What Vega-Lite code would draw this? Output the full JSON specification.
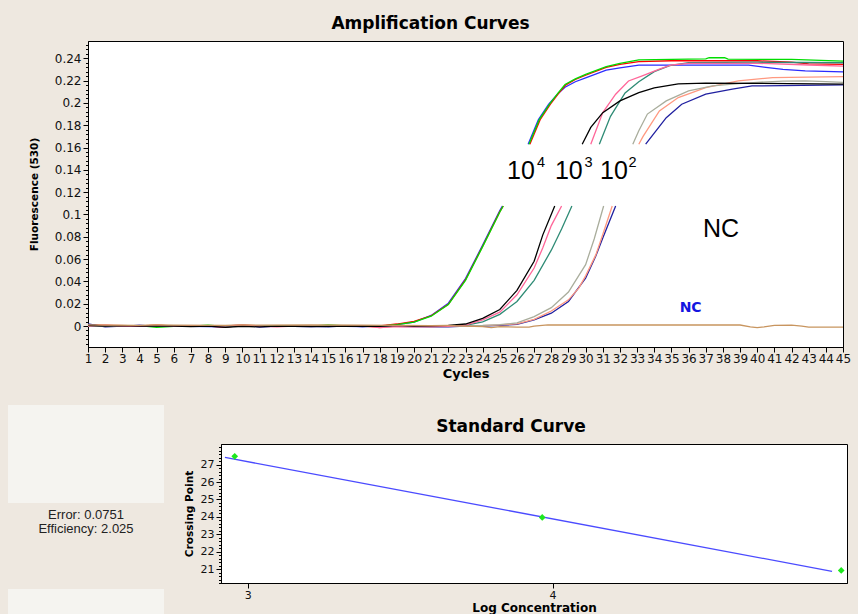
{
"$schema":"https://vega.github.io/schema/vega-lite/v6.json",
"background":"#EEE8E0",
"padding":{"left":8,"top":14,"right":6,"bottom":0},
"config":{"view":{"stroke":null},"axis":{"grid":false,"domainColor":"#000","tickColor":"#000","labelColor":"#111","titleColor":"#000","labelFont":"DejaVu Sans","titleFont":"DejaVu Sans","titleFontWeight":"bold"},"axisX":{"labelOverlap":false}},
"align":"none",
"spacing":24,
"vconcat":[
{"align":"none","spacing":8,"hconcat":[
 {"width":12,"height":1,"data":{"values":[{"t":""}]},"mark":{"type":"text","text":"","fontSize":0}},
 {"width":755,"height":306,
  "view":{"fill":"white","stroke":"#000","strokeWidth":1},
  "title":{"text":"Amplification Curves","font":"DejaVu Sans","fontSize":17,"fontWeight":"bold","color":"#000","anchor":"middle","dx":-35,"baseline":"top","offset":8},
  "layer":[
   {"data":{"values":[
{"id":"b","s":"lo","c":1,"f":0.0015},{"id":"b","s":"lo","c":2,"f":0},{"id":"b","s":"lo","c":3,"f":0},{"id":"b","s":"lo","c":4,"f":0.0006},{"id":"b","s":"lo","c":5,"f":0},{"id":"b","s":"lo","c":6,"f":0.0004},{"id":"b","s":"lo","c":7,"f":-0.0002},{"id":"b","s":"lo","c":8,"f":-0.0005},{"id":"b","s":"lo","c":9,"f":-0.0008},{"id":"b","s":"lo","c":10,"f":0.0004},{"id":"b","s":"lo","c":11,"f":-0.0006},{"id":"b","s":"lo","c":12,"f":-0.0002},{"id":"b","s":"lo","c":13,"f":-0.0004},{"id":"b","s":"lo","c":14,"f":-0.0006},{"id":"b","s":"lo","c":15,"f":-0.0004},{"id":"b","s":"lo","c":16,"f":-0.0002},{"id":"b","s":"lo","c":17,"f":-0.0005},{"id":"b","s":"lo","c":18,"f":0},{"id":"b","s":"lo","c":19,"f":0.0012},{"id":"b","s":"lo","c":20,"f":0.0036},{"id":"b","s":"lo","c":21,"f":0.0095},{"id":"b","s":"lo","c":22,"f":0.0205},{"id":"b","s":"lo","c":23,"f":0.0425},{"id":"b","s":"lo","c":24,"f":0.0725},{"id":"b","s":"lo","c":25,"f":0.1035},{"id":"b","s":"lo","c":25.15,"f":0.1076},
{"id":"b","s":"hi","c":26.65,"f":0.163},{"id":"b","s":"hi","c":27.25,"f":0.185},{"id":"b","s":"hi","c":27.85,"f":0.199},{"id":"b","s":"hi","c":28.4,"f":0.2085},{"id":"b","s":"hi","c":28.8,"f":0.214},{"id":"b","s":"hi","c":29.4,"f":0.219},{"id":"b","s":"hi","c":30,"f":0.2225},{"id":"b","s":"hi","c":31.2,"f":0.2293},{"id":"b","s":"hi","c":32,"f":0.2315},{"id":"b","s":"hi","c":33.1,"f":0.2338},{"id":"b","s":"hi","c":39.5,"f":0.2338},{"id":"b","s":"hi","c":40.5,"f":0.2318},{"id":"b","s":"hi","c":41.5,"f":0.23},{"id":"b","s":"hi","c":42.8,"f":0.2287},{"id":"b","s":"hi","c":45,"f":0.2278},
{"id":"r","s":"lo","c":1,"f":0.001},{"id":"r","s":"lo","c":2,"f":0.0006},{"id":"r","s":"lo","c":3,"f":0.0002},{"id":"r","s":"lo","c":4,"f":0},{"id":"r","s":"lo","c":5,"f":0.0007},{"id":"r","s":"lo","c":6,"f":0},{"id":"r","s":"lo","c":7,"f":-0.0003},{"id":"r","s":"lo","c":8,"f":0},{"id":"r","s":"lo","c":9,"f":-0.0009},{"id":"r","s":"lo","c":10,"f":0.0006},{"id":"r","s":"lo","c":11,"f":-0.0002},{"id":"r","s":"lo","c":12,"f":0.0004},{"id":"r","s":"lo","c":13,"f":0},{"id":"r","s":"lo","c":14,"f":0.0003},{"id":"r","s":"lo","c":15,"f":0},{"id":"r","s":"lo","c":16,"f":-0.0003},{"id":"r","s":"lo","c":17,"f":0},{"id":"r","s":"lo","c":18,"f":0.0002},{"id":"r","s":"lo","c":19,"f":0.0018},{"id":"r","s":"lo","c":20,"f":0.0042},{"id":"r","s":"lo","c":21,"f":0.0092},{"id":"r","s":"lo","c":22,"f":0.0195},{"id":"r","s":"lo","c":23,"f":0.0415},{"id":"r","s":"lo","c":24,"f":0.0715},{"id":"r","s":"lo","c":25,"f":0.1025},{"id":"r","s":"lo","c":25.2,"f":0.1076},
{"id":"r","s":"hi","c":26.75,"f":0.163},{"id":"r","s":"hi","c":27.35,"f":0.185},{"id":"r","s":"hi","c":27.95,"f":0.199},{"id":"r","s":"hi","c":28.45,"f":0.209},{"id":"r","s":"hi","c":28.85,"f":0.2162},{"id":"r","s":"hi","c":29.4,"f":0.221},{"id":"r","s":"hi","c":30,"f":0.2248},{"id":"r","s":"hi","c":31.2,"f":0.2318},{"id":"r","s":"hi","c":32,"f":0.2345},{"id":"r","s":"hi","c":33.1,"f":0.237},{"id":"r","s":"hi","c":35,"f":0.2378},{"id":"r","s":"hi","c":40,"f":0.2378},{"id":"r","s":"hi","c":42,"f":0.2365},{"id":"r","s":"hi","c":43,"f":0.235},{"id":"r","s":"hi","c":45,"f":0.2345},
{"id":"g","s":"lo","c":1,"f":0.0008},{"id":"g","s":"lo","c":2,"f":0.0002},{"id":"g","s":"lo","c":3,"f":0},{"id":"g","s":"lo","c":4,"f":0.0004},{"id":"g","s":"lo","c":5,"f":-0.0012},{"id":"g","s":"lo","c":6,"f":-0.0002},{"id":"g","s":"lo","c":7,"f":0},{"id":"g","s":"lo","c":8,"f":0.0008},{"id":"g","s":"lo","c":9,"f":-0.0004},{"id":"g","s":"lo","c":10,"f":0.0003},{"id":"g","s":"lo","c":11,"f":0},{"id":"g","s":"lo","c":12,"f":-0.0002},{"id":"g","s":"lo","c":13,"f":0.0002},{"id":"g","s":"lo","c":14,"f":0},{"id":"g","s":"lo","c":15,"f":0.0009},{"id":"g","s":"lo","c":16,"f":0.0002},{"id":"g","s":"lo","c":17,"f":-0.0004},{"id":"g","s":"lo","c":18,"f":0},{"id":"g","s":"lo","c":19,"f":0.0012},{"id":"g","s":"lo","c":20,"f":0.0035},{"id":"g","s":"lo","c":21,"f":0.0088},{"id":"g","s":"lo","c":22,"f":0.0192},{"id":"g","s":"lo","c":23,"f":0.041},{"id":"g","s":"lo","c":24,"f":0.0712},{"id":"g","s":"lo","c":25,"f":0.1022},{"id":"g","s":"lo","c":25.2,"f":0.1076},
{"id":"g","s":"hi","c":26.7,"f":0.163},{"id":"g","s":"hi","c":27.3,"f":0.185},{"id":"g","s":"hi","c":27.9,"f":0.199},{"id":"g","s":"hi","c":28.4,"f":0.209},{"id":"g","s":"hi","c":28.8,"f":0.2165},{"id":"g","s":"hi","c":29.4,"f":0.2215},{"id":"g","s":"hi","c":30,"f":0.2255},{"id":"g","s":"hi","c":31.2,"f":0.2325},{"id":"g","s":"hi","c":32,"f":0.2355},{"id":"g","s":"hi","c":33.1,"f":0.2385},{"id":"g","s":"hi","c":35,"f":0.239},{"id":"g","s":"hi","c":37,"f":0.2395},{"id":"g","s":"hi","c":37.2,"f":0.2405},{"id":"g","s":"hi","c":38.1,"f":0.2405},{"id":"g","s":"hi","c":38.3,"f":0.2392},{"id":"g","s":"hi","c":42,"f":0.239},{"id":"g","s":"hi","c":45,"f":0.2375},
{"id":"n","s":"lo","c":1,"f":0.002},{"id":"n","s":"lo","c":2,"f":-0.0008},{"id":"n","s":"lo","c":3,"f":0},{"id":"n","s":"lo","c":4,"f":0.0005},{"id":"n","s":"lo","c":5,"f":0},{"id":"n","s":"lo","c":6,"f":0},{"id":"n","s":"lo","c":7,"f":-0.0003},{"id":"n","s":"lo","c":8,"f":0},{"id":"n","s":"lo","c":9,"f":-0.0002},{"id":"n","s":"lo","c":10,"f":0.0008},{"id":"n","s":"lo","c":11,"f":-0.0008},{"id":"n","s":"lo","c":12,"f":0},{"id":"n","s":"lo","c":13,"f":-0.0002},{"id":"n","s":"lo","c":14,"f":0},{"id":"n","s":"lo","c":15,"f":-0.0007},{"id":"n","s":"lo","c":16,"f":0.0002},{"id":"n","s":"lo","c":17,"f":-0.0006},{"id":"n","s":"lo","c":18,"f":0},{"id":"n","s":"lo","c":19,"f":-0.0004},{"id":"n","s":"lo","c":20,"f":-0.0006},{"id":"n","s":"lo","c":21,"f":-0.0008},{"id":"n","s":"lo","c":22,"f":-0.0008},{"id":"n","s":"lo","c":23,"f":0},{"id":"n","s":"lo","c":24,"f":0},{"id":"n","s":"lo","c":25,"f":0.0006},{"id":"n","s":"lo","c":26,"f":0.0015},{"id":"n","s":"lo","c":27,"f":0.0055},{"id":"n","s":"lo","c":28,"f":0.0115},{"id":"n","s":"lo","c":29,"f":0.022},{"id":"n","s":"lo","c":30,"f":0.043},{"id":"n","s":"lo","c":30.6,"f":0.063},{"id":"n","s":"lo","c":31,"f":0.079},{"id":"n","s":"lo","c":31.75,"f":0.1076},
{"id":"n","s":"hi","c":33.5,"f":0.163},{"id":"n","s":"hi","c":34.7,"f":0.1868},{"id":"n","s":"hi","c":35.6,"f":0.1988},{"id":"n","s":"hi","c":37,"f":0.2078},{"id":"n","s":"hi","c":38.55,"f":0.2123},{"id":"n","s":"hi","c":39.7,"f":0.2152},{"id":"n","s":"hi","c":45,"f":0.2161},
{"id":"s","s":"lo","c":1,"f":0},{"id":"s","s":"lo","c":2,"f":0.001},{"id":"s","s":"lo","c":3,"f":0.0006},{"id":"s","s":"lo","c":4,"f":0},{"id":"s","s":"lo","c":5,"f":0.0012},{"id":"s","s":"lo","c":6,"f":0},{"id":"s","s":"lo","c":7,"f":0},{"id":"s","s":"lo","c":8,"f":0},{"id":"s","s":"lo","c":9,"f":0},{"id":"s","s":"lo","c":10,"f":0.0012},{"id":"s","s":"lo","c":11,"f":0},{"id":"s","s":"lo","c":12,"f":0},{"id":"s","s":"lo","c":13,"f":0},{"id":"s","s":"lo","c":14,"f":0},{"id":"s","s":"lo","c":15,"f":0},{"id":"s","s":"lo","c":16,"f":0},{"id":"s","s":"lo","c":17,"f":0},{"id":"s","s":"lo","c":18,"f":-0.0015},{"id":"s","s":"lo","c":19,"f":0},{"id":"s","s":"lo","c":20,"f":0},{"id":"s","s":"lo","c":21,"f":-0.0005},{"id":"s","s":"lo","c":22,"f":0},{"id":"s","s":"lo","c":23,"f":0},{"id":"s","s":"lo","c":24,"f":0.0004},{"id":"s","s":"lo","c":25,"f":0.001},{"id":"s","s":"lo","c":26,"f":0.002},{"id":"s","s":"lo","c":27,"f":0.006},{"id":"s","s":"lo","c":28,"f":0.0135},{"id":"s","s":"lo","c":29,"f":0.0235},{"id":"s","s":"lo","c":29.6,"f":0.034},{"id":"s","s":"lo","c":30,"f":0.045},{"id":"s","s":"lo","c":30.6,"f":0.064},{"id":"s","s":"lo","c":31,"f":0.082},{"id":"s","s":"lo","c":31.55,"f":0.1076},
{"id":"s","s":"hi","c":33.1,"f":0.163},{"id":"s","s":"hi","c":33.35,"f":0.17},{"id":"s","s":"hi","c":34.3,"f":0.1928},{"id":"s","s":"hi","c":35.4,"f":0.2048},{"id":"s","s":"hi","c":37,"f":0.2137},{"id":"s","s":"hi","c":38.9,"f":0.2197},{"id":"s","s":"hi","c":40.9,"f":0.2227},{"id":"s","s":"hi","c":45,"f":0.2236},
{"id":"y","s":"lo","c":1,"f":0.0004},{"id":"y","s":"lo","c":2,"f":0},{"id":"y","s":"lo","c":4,"f":0},{"id":"y","s":"lo","c":5,"f":0.0004},{"id":"y","s":"lo","c":6,"f":0},{"id":"y","s":"lo","c":10,"f":0},{"id":"y","s":"lo","c":15,"f":0},{"id":"y","s":"lo","c":20,"f":0},{"id":"y","s":"lo","c":22,"f":0},{"id":"y","s":"lo","c":23,"f":0.0002},{"id":"y","s":"lo","c":24,"f":0.0005},{"id":"y","s":"lo","c":25,"f":0.0012},{"id":"y","s":"lo","c":26,"f":0.0028},{"id":"y","s":"lo","c":27,"f":0.0085},{"id":"y","s":"lo","c":28,"f":0.0165},{"id":"y","s":"lo","c":29,"f":0.0305},{"id":"y","s":"lo","c":30,"f":0.055},{"id":"y","s":"lo","c":30.5,"f":0.078},{"id":"y","s":"lo","c":31.05,"f":0.1076},
{"id":"y","s":"hi","c":32.75,"f":0.163},{"id":"y","s":"hi","c":33.1,"f":0.175},{"id":"y","s":"hi","c":33.6,"f":0.19},{"id":"y","s":"hi","c":34.7,"f":0.2018},{"id":"y","s":"hi","c":36,"f":0.2108},{"id":"y","s":"hi","c":37.4,"f":0.2152},{"id":"y","s":"hi","c":38.9,"f":0.2173},{"id":"y","s":"hi","c":40,"f":0.2185},{"id":"y","s":"hi","c":41.5,"f":0.2195},{"id":"y","s":"hi","c":42.8,"f":0.2197},{"id":"y","s":"hi","c":44,"f":0.219},{"id":"y","s":"hi","c":45,"f":0.2185},
{"id":"t","s":"lo","c":1,"f":0},{"id":"t","s":"lo","c":3,"f":0.0004},{"id":"t","s":"lo","c":4,"f":0},{"id":"t","s":"lo","c":6,"f":0.0003},{"id":"t","s":"lo","c":7,"f":0},{"id":"t","s":"lo","c":8,"f":-0.0002},{"id":"t","s":"lo","c":9,"f":0},{"id":"t","s":"lo","c":11,"f":0.0003},{"id":"t","s":"lo","c":12,"f":0},{"id":"t","s":"lo","c":13,"f":0.0002},{"id":"t","s":"lo","c":14,"f":-0.0002},{"id":"t","s":"lo","c":15,"f":0},{"id":"t","s":"lo","c":16,"f":0.0002},{"id":"t","s":"lo","c":17,"f":0},{"id":"t","s":"lo","c":22,"f":0},{"id":"t","s":"lo","c":23,"f":0.0006},{"id":"t","s":"lo","c":24,"f":0.0038},{"id":"t","s":"lo","c":25,"f":0.0105},{"id":"t","s":"lo","c":26,"f":0.022},{"id":"t","s":"lo","c":27,"f":0.041},{"id":"t","s":"lo","c":28,"f":0.068},{"id":"t","s":"lo","c":28.6,"f":0.087},{"id":"t","s":"lo","c":29.2,"f":0.1076},
{"id":"t","s":"hi","c":30.8,"f":0.163},{"id":"t","s":"hi","c":31.45,"f":0.188},{"id":"t","s":"hi","c":32.3,"f":0.209},{"id":"t","s":"hi","c":33.1,"f":0.219},{"id":"t","s":"hi","c":34,"f":0.228},{"id":"t","s":"hi","c":34.9,"f":0.2335},{"id":"t","s":"hi","c":36,"f":0.2362},{"id":"t","s":"hi","c":40,"f":0.2365},{"id":"t","s":"hi","c":45,"f":0.236},
{"id":"p","s":"lo","c":1,"f":0},{"id":"p","s":"lo","c":2,"f":0.0005},{"id":"p","s":"lo","c":3,"f":0},{"id":"p","s":"lo","c":4,"f":-0.0003},{"id":"p","s":"lo","c":5,"f":0.0006},{"id":"p","s":"lo","c":6,"f":0},{"id":"p","s":"lo","c":7,"f":0.0002},{"id":"p","s":"lo","c":8,"f":0},{"id":"p","s":"lo","c":9,"f":0.0002},{"id":"p","s":"lo","c":10,"f":0.0008},{"id":"p","s":"lo","c":11,"f":0},{"id":"p","s":"lo","c":12,"f":-0.0008},{"id":"p","s":"lo","c":13,"f":0},{"id":"p","s":"lo","c":15,"f":-0.0003},{"id":"p","s":"lo","c":16,"f":0},{"id":"p","s":"lo","c":17,"f":0.0002},{"id":"p","s":"lo","c":18,"f":-0.0015},{"id":"p","s":"lo","c":19,"f":-0.0005},{"id":"p","s":"lo","c":20,"f":-0.0008},{"id":"p","s":"lo","c":21,"f":-0.0006},{"id":"p","s":"lo","c":22,"f":-0.0004},{"id":"p","s":"lo","c":23,"f":0.0008},{"id":"p","s":"lo","c":24,"f":0.0055},{"id":"p","s":"lo","c":25,"f":0.0125},{"id":"p","s":"lo","c":26,"f":0.028},{"id":"p","s":"lo","c":27,"f":0.052},{"id":"p","s":"lo","c":27.5,"f":0.07},{"id":"p","s":"lo","c":28,"f":0.09},{"id":"p","s":"lo","c":28.6,"f":0.1076},
{"id":"p","s":"hi","c":30.3,"f":0.163},{"id":"p","s":"hi","c":31,"f":0.1913},{"id":"p","s":"hi","c":31.75,"f":0.2078},{"id":"p","s":"hi","c":32.5,"f":0.2197},{"id":"p","s":"hi","c":33.3,"f":0.2242},{"id":"p","s":"hi","c":34.3,"f":0.2302},{"id":"p","s":"hi","c":35,"f":0.234},{"id":"p","s":"hi","c":36,"f":0.2355},{"id":"p","s":"hi","c":40,"f":0.2355},{"id":"p","s":"hi","c":43,"f":0.234},{"id":"p","s":"hi","c":45,"f":0.233},
{"id":"k","s":"lo","c":1,"f":0.0005},{"id":"k","s":"lo","c":2,"f":0},{"id":"k","s":"lo","c":3,"f":0.0003},{"id":"k","s":"lo","c":4,"f":0},{"id":"k","s":"lo","c":5,"f":0.0002},{"id":"k","s":"lo","c":6,"f":0},{"id":"k","s":"lo","c":7,"f":-0.0006},{"id":"k","s":"lo","c":8,"f":0},{"id":"k","s":"lo","c":9,"f":-0.0012},{"id":"k","s":"lo","c":10,"f":-0.0002},{"id":"k","s":"lo","c":11,"f":-0.0008},{"id":"k","s":"lo","c":12,"f":0},{"id":"k","s":"lo","c":13,"f":-0.0002},{"id":"k","s":"lo","c":14,"f":-0.0006},{"id":"k","s":"lo","c":15,"f":-0.0004},{"id":"k","s":"lo","c":16,"f":0},{"id":"k","s":"lo","c":17,"f":-0.0002},{"id":"k","s":"lo","c":18,"f":-0.0003},{"id":"k","s":"lo","c":19,"f":0.0006},{"id":"k","s":"lo","c":20,"f":0},{"id":"k","s":"lo","c":21,"f":0.0002},{"id":"k","s":"lo","c":22,"f":0.0006},{"id":"k","s":"lo","c":23,"f":0.0018},{"id":"k","s":"lo","c":24,"f":0.0068},{"id":"k","s":"lo","c":25,"f":0.0148},{"id":"k","s":"lo","c":26,"f":0.032},{"id":"k","s":"lo","c":27,"f":0.058},{"id":"k","s":"lo","c":27.5,"f":0.0815},{"id":"k","s":"lo","c":28.2,"f":0.1076},
{"id":"k","s":"hi","c":29.8,"f":0.163},{"id":"k","s":"hi","c":30.3,"f":0.178},{"id":"k","s":"hi","c":31,"f":0.1913},{"id":"k","s":"hi","c":32,"f":0.2018},{"id":"k","s":"hi","c":33.1,"f":0.2092},{"id":"k","s":"hi","c":34,"f":0.2135},{"id":"k","s":"hi","c":35.4,"f":0.217},{"id":"k","s":"hi","c":37,"f":0.2178},{"id":"k","s":"hi","c":40,"f":0.2175},{"id":"k","s":"hi","c":45,"f":0.2168},
{"id":"nc","s":"lo","c":1,"f":0.001},{"id":"nc","s":"lo","c":2,"f":0.0008},{"id":"nc","s":"lo","c":4,"f":0.0006},{"id":"nc","s":"lo","c":5,"f":0.001},{"id":"nc","s":"lo","c":6,"f":0.0008},{"id":"nc","s":"lo","c":9,"f":0.0006},{"id":"nc","s":"lo","c":10,"f":0.001},{"id":"nc","s":"lo","c":11,"f":0.0008},{"id":"nc","s":"lo","c":14,"f":0.0009},{"id":"nc","s":"lo","c":17,"f":0.0008},{"id":"nc","s":"lo","c":19,"f":0.0006},{"id":"nc","s":"lo","c":21,"f":0.0004},{"id":"nc","s":"lo","c":22,"f":0.0005},{"id":"nc","s":"lo","c":23,"f":0},{"id":"nc","s":"lo","c":24,"f":-0.0005},{"id":"nc","s":"lo","c":24.5,"f":-0.0015},{"id":"nc","s":"lo","c":25,"f":-0.0005},{"id":"nc","s":"lo","c":26,"f":-0.001},{"id":"nc","s":"lo","c":26.7,"f":-0.001},{"id":"nc","s":"lo","c":27,"f":0},{"id":"nc","s":"lo","c":27.8,"f":0.001},{"id":"nc","s":"lo","c":30,"f":0.0009},{"id":"nc","s":"lo","c":35,"f":0.0009},{"id":"nc","s":"lo","c":39,"f":0.0009},{"id":"nc","s":"lo","c":39.6,"f":-0.0008},{"id":"nc","s":"lo","c":40,"f":-0.0015},{"id":"nc","s":"lo","c":40.4,"f":-0.0008},{"id":"nc","s":"lo","c":41,"f":0.0006},{"id":"nc","s":"lo","c":42,"f":0.0008},{"id":"nc","s":"lo","c":42.6,"f":0},{"id":"nc","s":"lo","c":43,"f":-0.001},{"id":"nc","s":"lo","c":45,"f":-0.001}
   ]},
   "mark":{"type":"line","strokeWidth":1.3},
   "encoding":{
    "x":{"field":"c","type":"quantitative","scale":{"domain":[1,45],"nice":false,"zero":false},
      "axis":{"values":[1,2,3,4,5,6,7,8,9,10,11,12,13,14,15,16,17,18,19,20,21,22,23,24,25,26,27,28,29,30,31,32,33,34,35,36,37,38,39,40,41,42,43,44,45],"format":"d","labelFontSize":12,"labelFlush":false,"labelOverlap":false,"tickSize":5,"labelPadding":1,"title":"Cycles","titleFontSize":13,"titlePadding":3}},
    "y":{"field":"f","type":"quantitative","scale":{"domain":[-0.0188,0.2555],"nice":false,"zero":false},
      "axis":{"orient":"left","values":[0,0.02,0.04,0.06,0.08,0.1,0.12,0.14,0.16,0.18,0.2,0.22,0.24],"format":"~g","labelFontSize":12,"tickSize":5,"labelPadding":2,"title":"Fluorescence (530)","titleFontSize":10.5,"titlePadding":15}},
    "color":{"field":"id","type":"nominal","scale":{"domain":["b","r","g","n","s","y","t","p","k","nc"],"range":["#2B2BFF","#FF0000","#00DD00","#2020A0","#FF9980","#A9AD9C","#2E8B75","#FF6699","#000000","#C8955F"]},"legend":null},
    "detail":{"field":"s"}
   }},
   {"data":{"values":[{"t":"10","c":25.42,"f":0.1318},{"t":"10","c":28.21,"f":0.1318},{"t":"10","c":30.84,"f":0.1318},{"t":"NC","c":36.84,"f":0.0801}]},
    "mark":{"type":"text","font":"Liberation Sans","fontSize":25,"align":"left","baseline":"alphabetic","color":"#000"},
    "encoding":{"x":{"field":"c","type":"quantitative","axis":{"values":[1,2,3,4,5,6,7,8,9,10,11,12,13,14,15,16,17,18,19,20,21,22,23,24,25,26,27,28,29,30,31,32,33,34,35,36,37,38,39,40,41,42,43,44,45],"format":"d","labelFontSize":12,"labelFlush":false,"labelOverlap":false,"tickSize":5,"labelPadding":1,"title":"Cycles","titleFontSize":13,"titlePadding":3}},
      "y":{"field":"f","type":"quantitative","axis":{"orient":"left","values":[-0.016,-0.012,-0.008,-0.004,0.004,0.008,0.012,0.016,0.024,0.028,0.032,0.036,0.044,0.048,0.052,0.056,0.064,0.068,0.072,0.076,0.084,0.088,0.092,0.096,0.104,0.108,0.112,0.116,0.124,0.128,0.132,0.136,0.144,0.148,0.152,0.156,0.164,0.168,0.172,0.176,0.184,0.188,0.192,0.196,0.204,0.208,0.212,0.216,0.224,0.228,0.232,0.236,0.244,0.248,0.252],"labels":false,"domain":false,"tickSize":2.5,"title":null}},
      "text":{"field":"t"}}},
   {"data":{"values":[{"t":"4","c":27.17,"f":0.1428},{"t":"3","c":29.93,"f":0.1428},{"t":"2","c":32.5,"f":0.1428}]},
    "mark":{"type":"text","font":"Liberation Sans","fontSize":14.5,"align":"left","baseline":"alphabetic","color":"#000"},
    "encoding":{"x":{"field":"c","type":"quantitative","axis":{"values":[1,2,3,4,5,6,7,8,9,10,11,12,13,14,15,16,17,18,19,20,21,22,23,24,25,26,27,28,29,30,31,32,33,34,35,36,37,38,39,40,41,42,43,44,45],"format":"d","labelFontSize":12,"labelFlush":false,"labelOverlap":false,"tickSize":5,"labelPadding":1,"title":"Cycles","titleFontSize":13,"titlePadding":3}},"y":{"field":"f","type":"quantitative","axis":null},"text":{"field":"t"}}},
   {"data":{"values":[{"t":"NC","c":35.48,"f":0.0126}]},
    "mark":{"type":"text","font":"DejaVu Sans","fontWeight":"bold","fontSize":14,"align":"left","baseline":"alphabetic","color":"#1515E0"},
    "encoding":{"x":{"field":"c","type":"quantitative","axis":{"values":[1,2,3,4,5,6,7,8,9,10,11,12,13,14,15,16,17,18,19,20,21,22,23,24,25,26,27,28,29,30,31,32,33,34,35,36,37,38,39,40,41,42,43,44,45],"format":"d","labelFontSize":12,"labelFlush":false,"labelOverlap":false,"tickSize":5,"labelPadding":1,"title":"Cycles","titleFontSize":13,"titlePadding":3}},"y":{"field":"f","type":"quantitative","axis":null},"text":{"field":"t"}}}
  ],
  "resolve":{"axis":{"y":"independent"}}
 }
]},
{"align":"none","spacing":19,"hconcat":[
 {"spacing":0,"vconcat":[
   {"width":156,"height":98,"view":{"fill":"#F5F4F0","stroke":null},"data":{"values":[{"t":""}]},"mark":{"type":"text","text":"","fontSize":0}},
   {"width":156,"height":86,"data":{"values":[{"t":""}]},"mark":{"type":"text","text":["Error: 0.0751","Efficiency: 2.025"],"font":"Liberation Sans","fontSize":13,"lineHeight":14,"align":"center","baseline":"alphabetic","dy":-27,"color":"#222"}},
   {"width":156,"height":26,"view":{"fill":"#F5F4F0","stroke":null},"data":{"values":[{"t":""}]},"mark":{"type":"text","text":"","fontSize":0}}
 ]},
 {"spacing":11,"vconcat":[
  {"width":1,"height":1,"data":{"values":[{"t":""}]},"mark":{"type":"text","text":"","fontSize":0}},
  {"width":626,"height":139,
  "view":{"fill":"white","stroke":"#000","strokeWidth":1},
  "title":{"text":"Standard Curve","font":"DejaVu Sans","fontSize":17,"fontWeight":"bold","color":"#000","anchor":"middle","dx":-23,"baseline":"top","offset":8.3},
  "layer":[
   {"data":{"values":[{"lc":2.925,"cp":27.42},{"lc":4.917,"cp":20.87}]},
    "mark":{"type":"line","color":"#4B4BFF","strokeWidth":1.3},
    "encoding":{
     "x":{"field":"lc","type":"quantitative","scale":{"domain":[2.912,4.966],"nice":false,"zero":false},"axis":{"values":[3,4],"format":"d","labelFontSize":11,"tickSize":5,"labelPadding":1,"labelFlush":false,"title":"Log Concentration","titleFontSize":12,"titlePadding":2}},
     "y":{"field":"cp","type":"quantitative","scale":{"domain":[20.2,28.19],"nice":false,"zero":false},"axis":{"orient":"left","values":[21,22,23,24,25,26,27],"format":"d","labelFontSize":11,"tickSize":5,"labelPadding":2,"title":"Crossing Point","titleFontSize":10.6,"titlePadding":6}}}},
   {"data":{"values":[{"lc":2.957,"cp":27.48},{"lc":3.966,"cp":23.97},{"lc":4.947,"cp":20.92}]},
    "mark":{"type":"point","shape":"diamond","filled":true,"color":"#1EE81E","size":45,"opacity":1},
    "encoding":{
     "x":{"field":"lc","type":"quantitative","axis":{"values":[3,4],"format":"d","labelFontSize":11,"tickSize":5,"labelPadding":1,"labelFlush":false,"title":"Log Concentration","titleFontSize":12,"titlePadding":2}},
     "y":{"field":"cp","type":"quantitative","axis":{"orient":"left","values":[20.2,20.4,20.6,20.8,21.2,21.4,21.6,21.8,22.2,22.4,22.6,22.8,23.2,23.4,23.6,23.8,24.2,24.4,24.6,24.8,25.2,25.4,25.6,25.8,26.2,26.4,26.6,26.8,27.2,27.4,27.6,27.8,28],"labels":false,"domain":false,"tickSize":2.5,"title":null}}}}
  ],
  "resolve":{"axis":{"y":"independent"}}
  }
 ]}
]}
]
}
